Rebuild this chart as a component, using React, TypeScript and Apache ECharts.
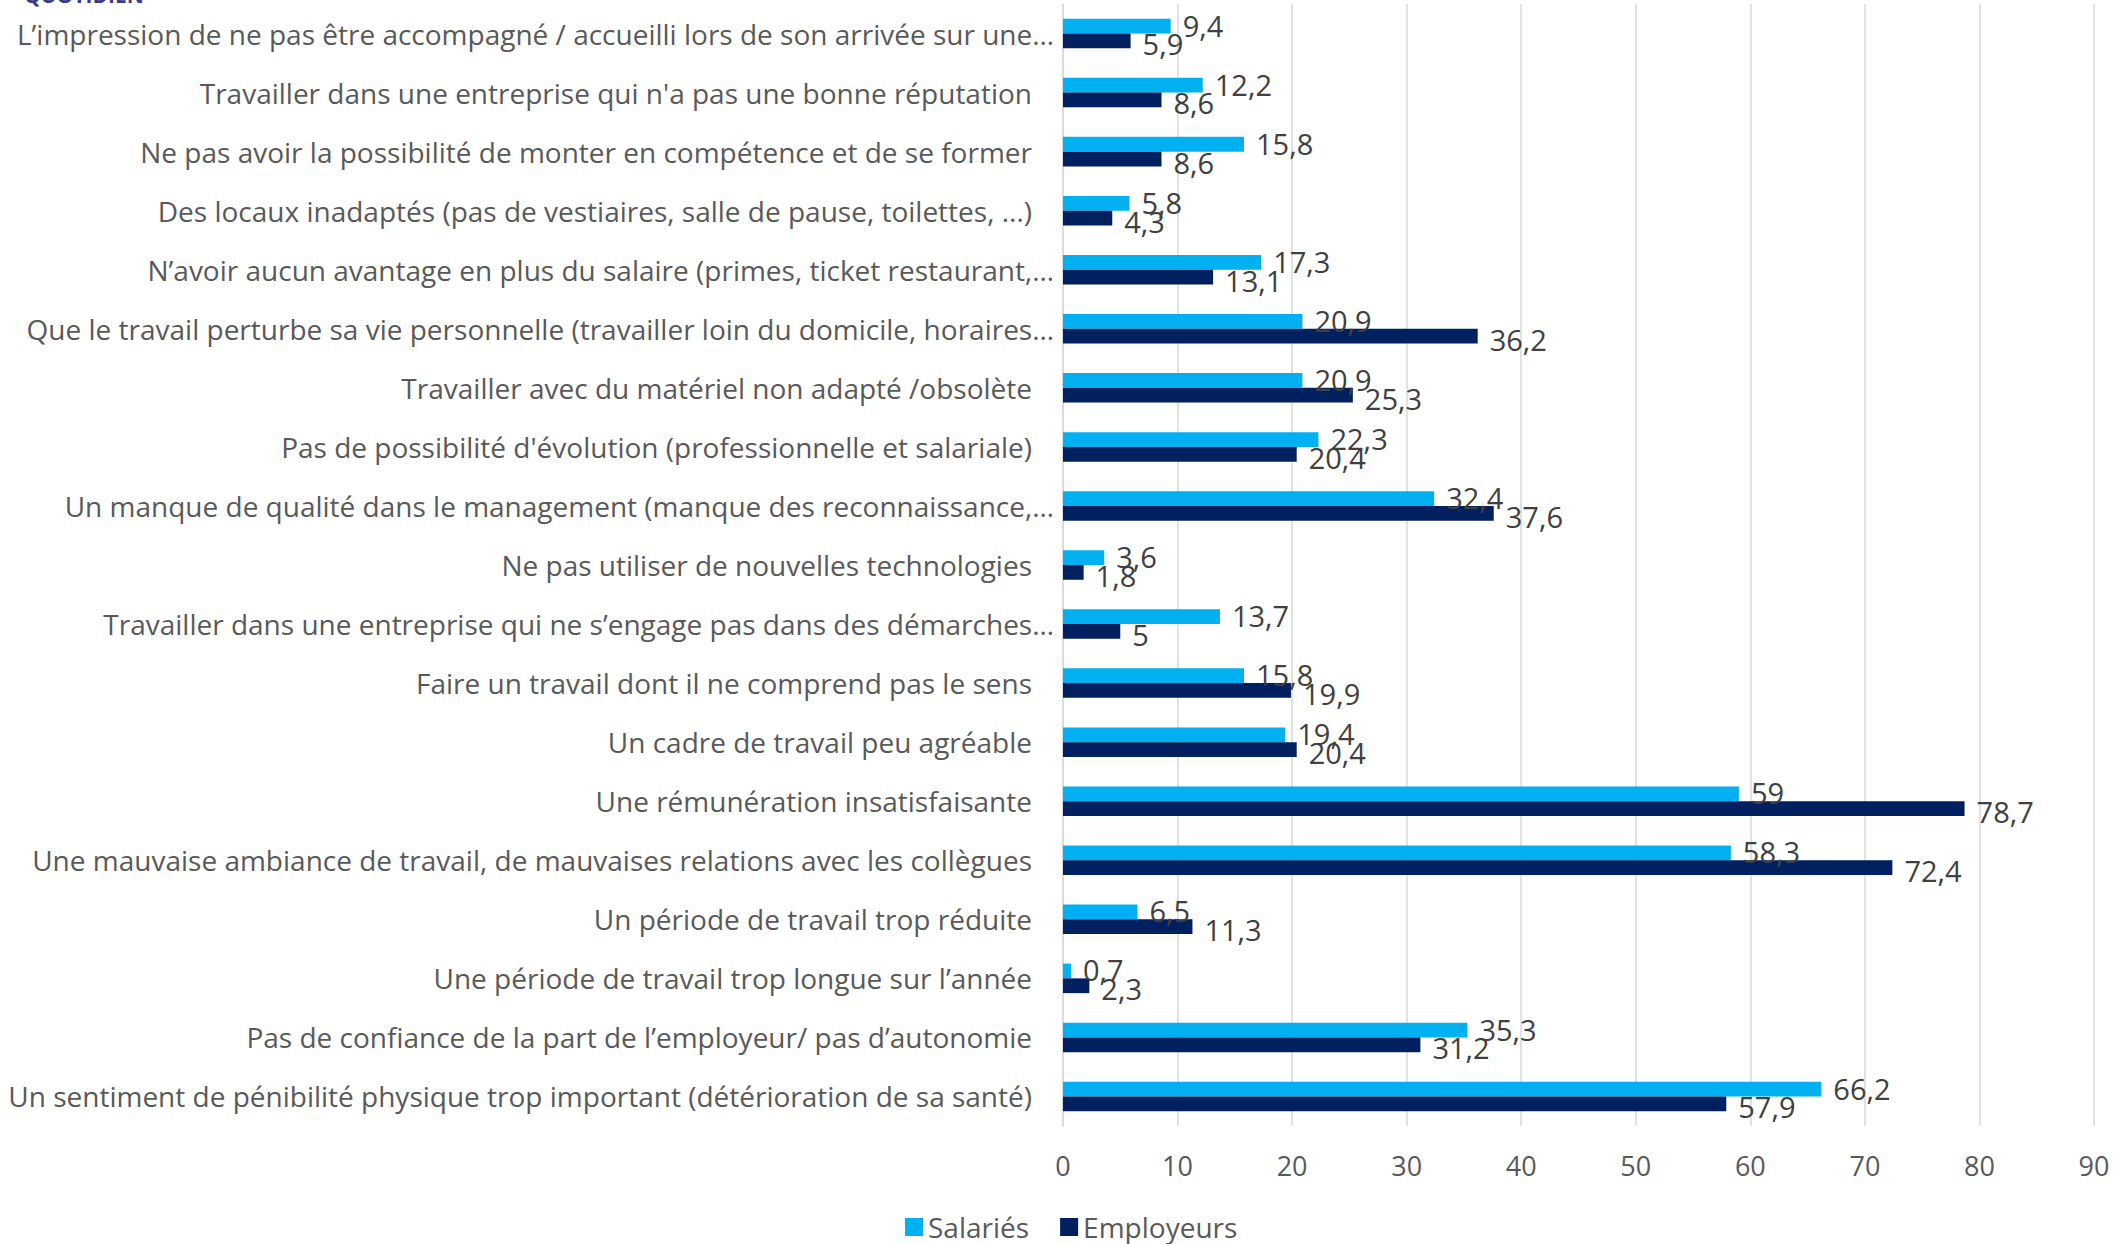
import React, { useEffect, useRef } from "react";
import * as echarts from "echarts";

const categories: string[] = [
  "L’impression de ne pas être accompagné / accueilli lors de son arrivée sur une…",
  "Travailler dans une entreprise qui n'a pas une bonne réputation",
  "Ne pas avoir la possibilité de monter en compétence et de se former",
  "Des locaux inadaptés (pas de vestiaires, salle de pause, toilettes, ...)",
  "N’avoir aucun avantage en plus du salaire (primes, ticket restaurant,…",
  "Que le travail perturbe sa vie personnelle (travailler loin du domicile, horaires…",
  "Travailler avec du matériel non adapté /obsolète",
  "Pas de possibilité d'évolution (professionnelle et salariale)",
  "Un manque de qualité dans le management (manque des reconnaissance,…",
  "Ne pas utiliser de nouvelles technologies",
  "Travailler dans une entreprise qui ne s’engage pas dans des démarches…",
  "Faire un travail dont il ne comprend pas le sens",
  "Un cadre de travail peu agréable",
  "Une rémunération insatisfaisante",
  "Une mauvaise ambiance de travail, de mauvaises relations avec les collègues",
  "Un période de travail trop réduite",
  "Une période de travail trop longue sur l’année",
  "Pas de confiance de la part de l’employeur/ pas d’autonomie",
  "Un sentiment de pénibilité physique trop important (détérioration de sa santé)",
];

const salaries: number[] = [9.4, 12.2, 15.8, 5.8, 17.3, 20.9, 20.9, 22.3, 32.4, 3.6, 13.7, 15.8, 19.4, 59, 58.3, 6.5, 0.7, 35.3, 66.2];
const employeurs: number[] = [5.9, 8.6, 8.6, 4.3, 13.1, 36.2, 25.3, 20.4, 37.6, 1.8, 5, 19.9, 20.4, 78.7, 72.4, 11.3, 2.3, 31.2, 57.9];

const seriesNames: string[] = ["Salariés", "Employeurs"];
const xTicks = { min: 0, max: 90, interval: 10 };

const FONT = "Open Sans";
const FS = 28;
const FSV = 29;

export default function App() {
  const ref = useRef<HTMLDivElement>(null);
  useEffect(() => {
    if (!ref.current) return;
    const chart = echarts.init(ref.current, undefined, { renderer: "svg" });
    const fmt = (p: any) => String(p.value).replace(".", ",");
    chart.setOption({
      animation: false,
      backgroundColor: "#ffffff",
      textStyle: { fontFamily: FONT },
      graphic: [
        {
          type: "text",
          left: 24,
          top: -16,
          style: { text: "QUOTIDIEN", fill: "#3b3b8e", font: `bold 21px ${FONT}` },
        },
      ],
      grid: { left: 1063, right: 19, top: 4, bottom: 118, containLabel: false },
      legend: {
        data: seriesNames,
        left: 900,
        top: 1208,
        itemWidth: 18,
        itemHeight: 18,
        itemGap: 31,
        icon: "rect",
        textStyle: { fontFamily: FONT, fontSize: FS, color: "#595959" },
      },
      xAxis: {
        type: "value",
        min: xTicks.min,
        max: xTicks.max,
        interval: xTicks.interval,
        axisLine: { show: false },
        axisTick: { show: false },
        splitLine: { show: true, lineStyle: { color: "#D9D9D9", width: 1.5 } },
        axisLabel: { fontFamily: FONT, fontSize: 27, color: "#595959", margin: 26 },
      },
      yAxis: {
        type: "category",
        inverse: true,
        data: categories,
        axisTick: { show: false },
        axisLine: { show: true, lineStyle: { color: "#D9D9D9", width: 1.5 } },
        axisLabel: {
          margin: 9,
          fontFamily: FONT,
          fontSize: FS,
          color: "#595959",
          formatter: (v: string) => (v.endsWith("…") ? `{e|${v}}` : `{a|${v}}`),
          rich: {
            a: { fontFamily: FONT, fontSize: FS, color: "#595959", padding: [0, 22, 0, 0] },
            e: { fontFamily: FONT, fontSize: FS, color: "#595959" },
          },
        },
      },
      series: [
        {
          name: seriesNames[0],
          type: "bar",
          data: salaries,
          barGap: "0%",
          barCategoryGap: "50%",
          itemStyle: { color: "#00B0F0" },
          label: {
            show: true,
            position: "right",
            distance: 12,
            offset: [0, -1],
            formatter: fmt,
            fontFamily: FONT,
            fontSize: FSV,
            color: "#404040",
          },
        },
        {
          name: seriesNames[1],
          type: "bar",
          data: employeurs,
          barGap: "0%",
          barCategoryGap: "50%",
          itemStyle: { color: "#002060" },
          label: {
            show: true,
            position: "right",
            distance: 12,
            offset: [0, 3],
            formatter: fmt,
            fontFamily: FONT,
            fontSize: FSV,
            color: "#404040",
          },
        },
      ],
    });
    return () => chart.dispose();
  }, []);
  return (
    <div
      ref={ref}
      style={{ position: "fixed", left: 0, top: 0, width: 2113, height: 1244, background: "#fff" }}
    />
  );
}
